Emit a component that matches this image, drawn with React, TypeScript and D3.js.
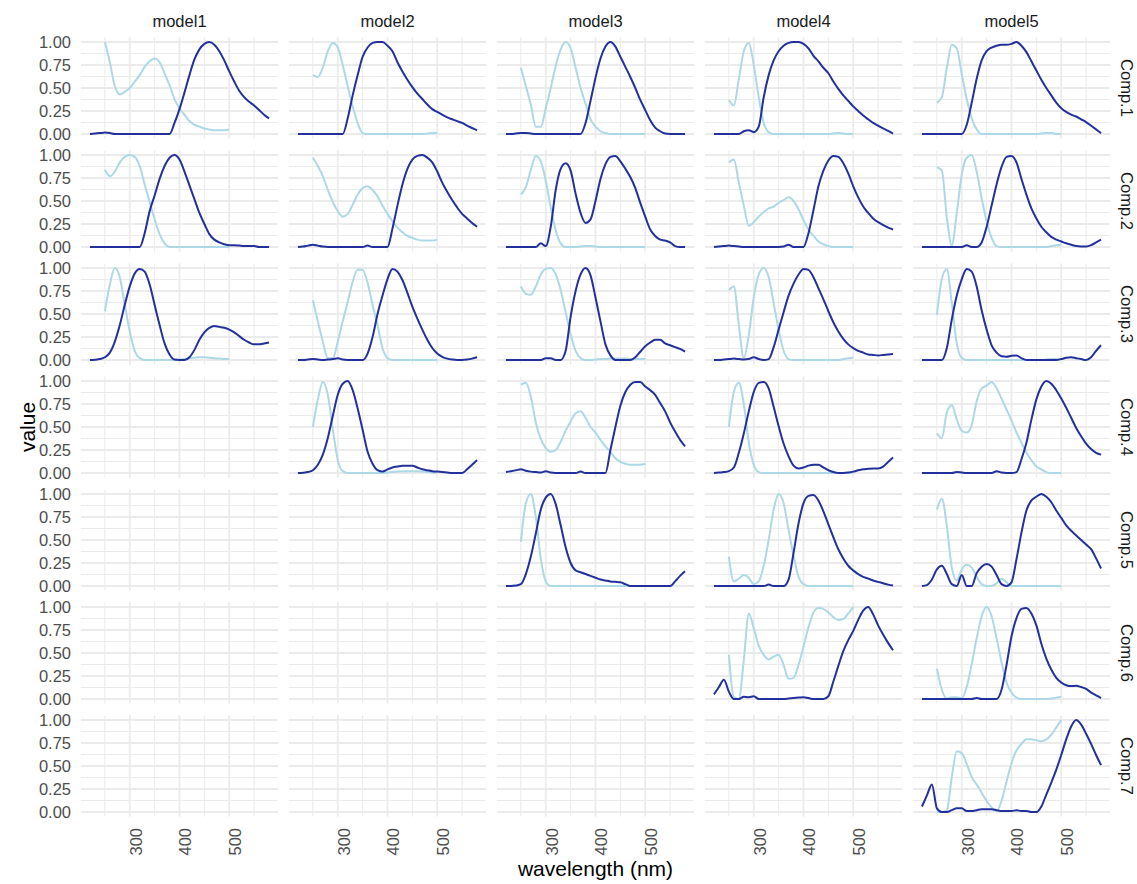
import React from "react";
import * as d3 from "d3";

// facet labels
const models = ["model1", "model2", "model3", "model4", "model5"];
const comps = ["Comp.1", "Comp.2", "Comp.3", "Comp.4", "Comp.5", "Comp.6", "Comp.7"];

// wavelength grids (nm)
const emNm = [220, 230, 240, 250, 260, 270, 280, 290, 300, 310, 320, 330, 340, 350, 360, 370, 380, 390, 400, 410,
  420, 430, 440, 450, 460, 470, 480, 490, 500, 510, 520, 530, 540, 550, 560, 570, 580];
const exNm = [250, 260, 270, 280, 290, 300, 310, 320, 330, 340, 350, 360, 370, 380, 390, 400, 410, 420, 430, 440,
  450, 460, 470, 480, 490, 500];

// emission loadings (dark) and excitation loadings (light), one row per component
const model1Em = [
  [0, 0.005, 0.01, 0.015, 0.01, 0, 0, 0, 0, 0, 0, 0, 0, 0, 0, 0, 0, 0.12, 0.27, 0.45,
    0.64, 0.81, 0.92, 0.98, 1, 0.97, 0.9, 0.8, 0.68, 0.57, 0.47, 0.4, 0.35, 0.31, 0.26, 0.21, 0.17],
  [0, 0, 0, 0, 0, 0, 0, 0, 0, 0, 0, 0.15, 0.39, 0.56, 0.74, 0.88, 0.97, 1, 0.95, 0.82,
    0.67, 0.52, 0.37, 0.25, 0.14, 0.08, 0.05, 0.03, 0.02, 0.02, 0.015, 0.01, 0.01, 0.01, 0, 0, 0],
  [0, 0.003, 0.01, 0.03, 0.08, 0.2, 0.38, 0.6, 0.8, 0.94, 0.99, 0.96, 0.82, 0.6, 0.38, 0.18, 0.06, 0.005, 0, 0,
    0.03, 0.11, 0.22, 0.3, 0.35, 0.37, 0.36, 0.35, 0.33, 0.3, 0.26, 0.22, 0.19, 0.17, 0.17, 0.18, 0.19],
];
const model1Ex = [
  [1, 0.78, 0.52, 0.43, 0.46, 0.5, 0.57, 0.64, 0.73, 0.79, 0.82, 0.78, 0.66, 0.53, 0.38, 0.28, 0.21, 0.14, 0.1, 0.08,
    0.06, 0.05, 0.04, 0.04, 0.04, 0.045],
  [0.84, 0.77, 0.82, 0.92, 0.98, 1, 0.98, 0.88, 0.68, 0.49, 0.3, 0.14, 0.04, 0, 0, 0, 0, 0, 0, 0,
    0, 0, 0, 0, 0, 0],
  [0.53, 0.82, 1, 0.9, 0.6, 0.31, 0.1, 0.02, 0, 0, 0, 0, 0, 0, 0, 0.005, 0.01, 0.02, 0.025, 0.03,
    0.03, 0.025, 0.02, 0.015, 0.01, 0.01],
];

const model2Em = [
  [0, 0, 0, 0, 0, 0, 0, 0, 0, 0, 0.17, 0.42, 0.64, 0.84, 0.94, 0.99, 1, 1, 0.96, 0.9,
    0.78, 0.68, 0.59, 0.51, 0.44, 0.38, 0.32, 0.27, 0.24, 0.21, 0.18, 0.16, 0.14, 0.12, 0.09, 0.065, 0.04],
  [0, 0.005, 0.015, 0.025, 0.015, 0.005, 0, 0, 0, 0, 0, 0, 0, 0, 0.015, 0, 0, 0, 0, 0.2,
    0.45, 0.68, 0.85, 0.95, 0.99, 1, 0.97, 0.92, 0.82, 0.7, 0.6, 0.51, 0.43, 0.36, 0.31, 0.26, 0.22],
  [0, 0, 0.005, 0.01, 0.005, 0, 0.005, 0.01, 0.02, 0.005, 0, 0, 0, 0, 0.07, 0.25, 0.5, 0.7, 0.88, 0.99,
    0.96, 0.87, 0.73, 0.58, 0.45, 0.33, 0.22, 0.13, 0.07, 0.035, 0.015, 0.005, 0, 0, 0.005, 0.015, 0.03],
  [0, 0.003, 0.01, 0.03, 0.09, 0.2, 0.38, 0.62, 0.85, 0.97, 1, 0.9, 0.7, 0.47, 0.23, 0.1, 0.03, 0.015, 0.04, 0.06,
    0.07, 0.08, 0.08, 0.08, 0.06, 0.04, 0.03, 0.02, 0.015, 0.01, 0.005, 0, 0, 0, 0.04, 0.09, 0.14],
];
const model2Ex = [
  [0.64, 0.62, 0.72, 0.9, 0.99, 0.94, 0.75, 0.52, 0.3, 0.12, 0.01, 0, 0, 0, 0, 0, 0, 0, 0, 0,
    0, 0, 0, 0.005, 0.01, 0.01],
  [0.97, 0.88, 0.77, 0.62, 0.49, 0.39, 0.33, 0.36, 0.46, 0.57, 0.64, 0.66, 0.62, 0.55, 0.45, 0.36, 0.28, 0.21, 0.16, 0.12,
    0.1, 0.08, 0.07, 0.07, 0.07, 0.08],
  [0.65, 0.42, 0.2, 0.02, 0.02, 0.2, 0.42, 0.63, 0.85, 0.98, 0.98, 0.84, 0.6, 0.38, 0.13, 0.02, 0, 0, 0, 0,
    0, 0, 0, 0, 0, 0],
  [0.5, 0.8, 0.99, 0.85, 0.48, 0.14, 0.02, 0, 0, 0, 0, 0, 0, 0, 0, 0.005, 0.01, 0.015, 0.02, 0.02,
    0.02, 0.02, 0.015, 0.01, 0.005, 0.005],
];

const model3Em = [
  [0, 0, 0.005, 0.01, 0.01, 0.005, 0, 0, 0, 0, 0, 0, 0, 0, 0, 0, 0.12, 0.36, 0.61, 0.82,
    0.95, 1, 0.95, 0.84, 0.73, 0.62, 0.5, 0.37, 0.26, 0.15, 0.07, 0.03, 0.005, 0, 0, 0, 0],
  [0, 0, 0, 0, 0, 0, 0, 0.04, 0.01, 0.22, 0.62, 0.85, 0.91, 0.83, 0.58, 0.37, 0.26, 0.3, 0.5, 0.74,
    0.9, 0.98, 0.99, 0.93, 0.85, 0.76, 0.64, 0.48, 0.33, 0.19, 0.12, 0.08, 0.07, 0.05, 0.01, 0, 0],
  [0, 0, 0, 0, 0, 0, 0, 0, 0.02, 0.02, 0, 0, 0.1, 0.47, 0.75, 0.93, 1, 0.92, 0.68, 0.42,
    0.17, 0.05, 0, 0, 0, 0, 0.03, 0.09, 0.15, 0.19, 0.22, 0.22, 0.18, 0.16, 0.14, 0.12, 0.09],
  [0.01, 0.02, 0.03, 0.04, 0.025, 0.015, 0.01, 0.005, 0.02, 0.005, 0, 0, 0, 0, 0, 0.015, 0, 0, 0, 0,
    0, 0.25, 0.5, 0.73, 0.88, 0.96, 0.99, 0.99, 0.94, 0.9, 0.85, 0.76, 0.67, 0.55, 0.45, 0.36, 0.29],
  [0, 0, 0.005, 0.02, 0.13, 0.32, 0.57, 0.83, 0.96, 1, 0.89, 0.66, 0.42, 0.25, 0.17, 0.15, 0.13, 0.11, 0.09, 0.07,
    0.06, 0.05, 0.045, 0.04, 0.02, 0, 0, 0, 0, 0, 0, 0, 0, 0, 0.05, 0.11, 0.16],
];
const model3Ex = [
  [0.72, 0.52, 0.32, 0.08, 0.08, 0.28, 0.5, 0.74, 0.92, 1, 0.93, 0.72, 0.5, 0.33, 0.16, 0.08, 0.03, 0.01, 0, 0,
    0, 0, 0, 0, 0, 0],
  [0.57, 0.65, 0.84, 0.99, 0.93, 0.72, 0.43, 0.18, 0.04, 0, 0, 0, 0.005, 0.01, 0.01, 0.005, 0, 0, 0, 0,
    0, 0, 0, 0, 0, 0],
  [0.8, 0.72, 0.71, 0.8, 0.93, 0.99, 1, 0.93, 0.76, 0.52, 0.28, 0.1, 0.02, 0, 0, 0.005, 0.01, 0.01, 0.015, 0.015,
    0.015, 0.015, 0.01, 0.01, 0.01, 0.01],
  [0.96, 0.98, 0.83, 0.55, 0.37, 0.27, 0.23, 0.25, 0.34, 0.46, 0.56, 0.65, 0.67, 0.6, 0.5, 0.44, 0.36, 0.29, 0.23, 0.16,
    0.12, 0.1, 0.09, 0.09, 0.09, 0.1],
  [0.48, 0.9, 1, 0.75, 0.3, 0.05, 0, 0, 0, 0, 0, 0, 0, 0, 0, 0, 0, 0, 0, 0,
    0, 0, 0, 0, 0, 0],
];

const model4Em = [
  [0, 0, 0, 0, 0, 0, 0.03, 0.04, 0.02, 0.08, 0.4, 0.64, 0.8, 0.9, 0.96, 0.99, 1, 1, 0.98, 0.93,
    0.85, 0.79, 0.72, 0.66, 0.57, 0.49, 0.42, 0.36, 0.3, 0.25, 0.2, 0.16, 0.12, 0.09, 0.06, 0.035, 0.005],
  [0, 0.005, 0.01, 0.015, 0.01, 0.005, 0, 0, 0, 0, 0, 0, 0, 0, 0.005, 0.025, 0, 0, 0, 0.15,
    0.4, 0.66, 0.83, 0.94, 0.99, 0.98, 0.91, 0.8, 0.66, 0.54, 0.44, 0.37, 0.31, 0.27, 0.24, 0.21, 0.19],
  [0, 0, 0.005, 0.01, 0.015, 0.01, 0.005, 0.01, 0.03, 0.01, 0, 0.01, 0.14, 0.33, 0.52, 0.7, 0.83, 0.93, 0.99, 0.98,
    0.9, 0.78, 0.66, 0.53, 0.41, 0.31, 0.23, 0.17, 0.13, 0.1, 0.08, 0.06, 0.055, 0.05, 0.055, 0.06, 0.065],
  [0, 0.005, 0.01, 0.02, 0.06, 0.22, 0.43, 0.67, 0.88, 0.98, 0.99, 0.92, 0.72, 0.51, 0.32, 0.18, 0.08, 0.05, 0.06, 0.08,
    0.09, 0.09, 0.06, 0.03, 0.01, 0, 0, 0.005, 0.015, 0.03, 0.04, 0.045, 0.05, 0.05, 0.07, 0.12, 0.17],
  [0, 0, 0, 0, 0, 0, 0, 0, 0, 0, 0, 0.015, 0, 0, 0, 0.07, 0.36, 0.68, 0.9, 0.98,
    0.99, 0.93, 0.81, 0.67, 0.53, 0.4, 0.3, 0.22, 0.17, 0.13, 0.1, 0.08, 0.06, 0.045, 0.03, 0.015, 0.005],
  [0.05, 0.13, 0.21, 0.08, 0, 0, 0.025, 0.02, 0.03, 0, 0, 0, 0, 0, 0, 0.005, 0.01, 0.015, 0.02, 0.01,
    0, 0, 0, 0.03, 0.19, 0.36, 0.52, 0.64, 0.74, 0.86, 0.96, 1, 0.92, 0.8, 0.7, 0.61, 0.53],
];
const model4Ex = [
  [0.37, 0.31, 0.6, 0.9, 0.99, 0.75, 0.4, 0.12, 0.02, 0, 0, 0, 0, 0, 0, 0, 0, 0, 0, 0,
    0, 0.005, 0.01, 0.005, 0, 0],
  [0.92, 0.95, 0.7, 0.45, 0.23, 0.27, 0.33, 0.38, 0.42, 0.44, 0.48, 0.51, 0.54, 0.5, 0.41, 0.29, 0.19, 0.12, 0.06, 0.03,
    0.01, 0, 0, 0, 0, 0],
  [0.76, 0.8, 0.38, 0.02, 0.27, 0.68, 0.93, 1, 0.9, 0.62, 0.33, 0.1, 0.01, 0, 0, 0, 0, 0, 0, 0,
    0, 0, 0, 0.01, 0.02, 0.025],
  [0.5, 0.88, 0.98, 0.75, 0.33, 0.09, 0.01, 0, 0, 0, 0, 0, 0, 0, 0, 0, 0, 0, 0, 0,
    0, 0, 0, 0, 0, 0],
  [0.32, 0.05, 0.08, 0.12, 0.09, 0.02, 0.05, 0.22, 0.5, 0.83, 1, 0.9, 0.61, 0.33, 0.1, 0.02, 0, 0, 0, 0,
    0, 0, 0, 0, 0, 0],
  [0.48, 0.02, 0, 0.42, 0.93, 0.77, 0.58, 0.48, 0.43, 0.46, 0.48, 0.37, 0.22, 0.23, 0.37, 0.57, 0.78, 0.94, 0.99, 0.98,
    0.94, 0.89, 0.86, 0.87, 0.93, 1],
];

const model5Em = [
  [0, 0, 0, 0, 0, 0, 0, 0, 0, 0.1, 0.34, 0.6, 0.8, 0.9, 0.94, 0.96, 0.97, 0.97, 0.98, 1,
    0.96, 0.89, 0.79, 0.69, 0.59, 0.5, 0.42, 0.34, 0.28, 0.24, 0.21, 0.19, 0.16, 0.13, 0.09, 0.05, 0.01],
  [0, 0, 0, 0, 0, 0, 0, 0, 0, 0.02, 0, 0, 0.05, 0.22, 0.45, 0.68, 0.87, 0.98, 0.99, 0.92,
    0.74, 0.57, 0.42, 0.31, 0.22, 0.16, 0.11, 0.08, 0.06, 0.04, 0.025, 0.01, 0.005, 0.005, 0.02, 0.05, 0.08],
  [0, 0, 0, 0, 0, 0.13, 0.44, 0.7, 0.88, 0.99, 0.96, 0.8, 0.54, 0.33, 0.16, 0.08, 0.04, 0.035, 0.045, 0.05,
    0.02, 0, 0, 0, 0, 0, 0, 0, 0.01, 0.025, 0.03, 0.02, 0.01, 0, 0.03, 0.1, 0.16],
  [0, 0, 0, 0, 0, 0, 0, 0.01, 0.005, 0, 0, 0, 0, 0, 0, 0.02, 0.005, 0, 0, 0.01,
    0.15, 0.33, 0.58, 0.8, 0.94, 1, 0.97, 0.9, 0.81, 0.71, 0.6, 0.49, 0.4, 0.32, 0.26, 0.22, 0.2],
  [0, 0.01, 0.07, 0.18, 0.22, 0.13, 0.02, 0, 0.12, 0, 0, 0.14, 0.21, 0.24, 0.21, 0.12, 0.02, 0, 0.04, 0.29,
    0.58, 0.82, 0.93, 0.97, 1, 0.97, 0.91, 0.82, 0.74, 0.66, 0.6, 0.55, 0.5, 0.45, 0.4, 0.3, 0.19],
  [0, 0, 0, 0, 0, 0, 0, 0, 0, 0, 0, 0.01, 0, 0, 0, 0, 0.1, 0.37, 0.68, 0.88,
    0.98, 0.99, 0.93, 0.8, 0.6, 0.44, 0.32, 0.23, 0.18, 0.15, 0.14, 0.145, 0.13, 0.11, 0.07, 0.04, 0.01],
  [0.06, 0.18, 0.3, 0.04, 0, 0, 0.02, 0.04, 0.04, 0.01, 0.01, 0.02, 0.03, 0.03, 0.03, 0.02, 0.01, 0.01, 0.01, 0.02,
    0.01, 0.01, 0, 0, 0.06, 0.19, 0.32, 0.46, 0.62, 0.79, 0.93, 1, 0.95, 0.85, 0.74, 0.62, 0.51],
];
const model5Ex = [
  [0.34, 0.4, 0.72, 0.97, 0.93, 0.65, 0.38, 0.17, 0.05, 0, 0, 0, 0, 0, 0, 0, 0, 0, 0, 0,
    0, 0.005, 0.01, 0.01, 0, 0],
  [0.87, 0.83, 0.32, 0.02, 0.37, 0.79, 0.97, 1, 0.82, 0.53, 0.28, 0.1, 0.01, 0, 0, 0, 0, 0, 0, 0,
    0, 0, 0, 0.01, 0.02, 0.025],
  [0.49, 0.88, 0.99, 0.62, 0.18, 0.02, 0, 0, 0, 0, 0, 0, 0, 0, 0, 0, 0, 0, 0, 0,
    0, 0, 0.005, 0.01, 0.01, 0.01],
  [0.43, 0.38, 0.66, 0.74, 0.58, 0.46, 0.44, 0.52, 0.78, 0.92, 0.95, 0.99, 0.92, 0.81, 0.69, 0.57, 0.44, 0.33, 0.22, 0.14,
    0.07, 0.04, 0.01, 0, 0, 0],
  [0.83, 0.95, 0.65, 0.2, 0.06, 0.18, 0.23, 0.2, 0.1, 0.02, 0, 0, 0.03, 0.08, 0.04, 0, 0, 0, 0, 0,
    0, 0, 0, 0, 0, 0],
  [0.33, 0.1, 0.005, 0.02, 0.02, 0.01, 0.13, 0.38, 0.66, 0.9, 1, 0.9, 0.66, 0.4, 0.18, 0.07, 0.015, 0, 0, 0,
    0, 0, 0, 0.005, 0.015, 0.025],
  [0, 0, 0.02, 0.38, 0.66, 0.64, 0.52, 0.38, 0.3, 0.21, 0.12, 0.05, 0.01, 0.12, 0.33, 0.53, 0.67, 0.74, 0.79, 0.79,
    0.78, 0.77, 0.79, 0.84, 0.92, 1],
];

const emByModel = [model1Em, model2Em, model3Em, model4Em, model5Em];
const exByModel = [model1Ex, model2Ex, model3Ex, model4Ex, model5Ex];

const yBreaks = [0, 0.25, 0.5, 0.75, 1];
const yMinor = [0.125, 0.375, 0.625, 0.875];
const xBreaks = [300, 400, 500];
const xMinor = [250, 350, 450, 550];

// layout
const W = 1137, H = 884;
const left0 = 81, panelW = 197, colStep = 208;
const top0 = 37.4, panelH = 101.2, rowStep = 113;
const font = "'Liberation Sans', Arial, Helvetica, sans-serif";
const lightCol = "#add8e6";
const darkCol = "#22309b";
const gridCol = "#ebebeb";

export default function App() {
  const x = d3.scaleLinear().domain([202, 598]).range([0, panelW]);
  const y = d3.scaleLinear().domain([-0.05, 1.05]).range([panelH, 0]);
  const line = d3.line<[number, number]>()
    .x(d => x(d[0]))
    .y(d => y(d[1]))
    .curve(d3.curveMonotoneX);
  const fmt = d3.format(".2f");

  const panels: JSX.Element[] = [];
  comps.forEach((comp, r) => {
    models.forEach((m, c) => {
      const em = emByModel[c][r];
      const ex = exByModel[c][r];
      panels.push(
        <g key={m + comp} transform={`translate(${left0 + c * colStep},${top0 + r * rowStep})`}>
          {yMinor.map(v => (
            <line key={"ym" + v} x1={0} x2={panelW} y1={y(v)} y2={y(v)} stroke={gridCol} strokeWidth={1} />
          ))}
          {xMinor.map(v => (
            <line key={"xm" + v} x1={x(v)} x2={x(v)} y1={0} y2={panelH} stroke={gridCol} strokeWidth={1} />
          ))}
          {yBreaks.map(v => (
            <line key={"y" + v} x1={0} x2={panelW} y1={y(v)} y2={y(v)} stroke={gridCol} strokeWidth={1.8} />
          ))}
          {xBreaks.map(v => (
            <line key={"x" + v} x1={x(v)} x2={x(v)} y1={0} y2={panelH} stroke={gridCol} strokeWidth={1.8} />
          ))}
          {ex && (
            <path d={line(exNm.map((nm, i) => [nm, ex[i]] as [number, number])) || ""}
              fill="none" stroke={lightCol} strokeWidth={2} strokeLinejoin="round" />
          )}
          {em && (
            <path d={line(emNm.map((nm, i) => [nm, em[i]] as [number, number])) || ""}
              fill="none" stroke={darkCol} strokeWidth={2} strokeLinejoin="round" />
          )}
        </g>
      );
    });
  });

  return (
    <svg width={W} height={H} style={{ position: "absolute", left: 0, top: 0, background: "#fff" }}
      fontFamily={font}>
      {panels}
      {/* top strips */}
      {models.map((m, c) => (
        <text key={m} x={left0 + c * colStep + panelW / 2} y={26.5} textAnchor="middle"
          fontSize={16.5} fill="#1a1a1a">{m}</text>
      ))}
      {/* right strips */}
      {comps.map((comp, r) => (
        <text key={comp} transform={`translate(1121,${top0 + r * rowStep + panelH / 2}) rotate(90)`}
          textAnchor="middle" fontSize={16.5} fill="#1a1a1a">{comp}</text>
      ))}
      {/* y axis labels */}
      {comps.map((comp, r) => yBreaks.map(v => (
        <text key={comp + v} x={71} y={top0 + r * rowStep + y(v)} dy="0.36em" textAnchor="end"
          fontSize={16.5} fill="#4d4d4d">{fmt(v)}</text>
      )))}
      {/* x axis labels */}
      {models.map((m, c) => xBreaks.map(v => (
        <text key={m + v} transform={`translate(${left0 + c * colStep + x(v)},828) rotate(-90)`}
          dy="0.72em" textAnchor="end" fontSize={16.5} fill="#4d4d4d">{v}</text>
      )))}
      <text x={left0 + (4 * colStep + panelW) / 2} y={876} textAnchor="middle" fontSize={21} fill="#000">
        wavelength (nm)
      </text>
      <text transform={`translate(35,${top0 + (6 * rowStep + panelH) / 2}) rotate(-90)`} textAnchor="middle"
        fontSize={21} fill="#000">value</text>
    </svg>
  );
}
